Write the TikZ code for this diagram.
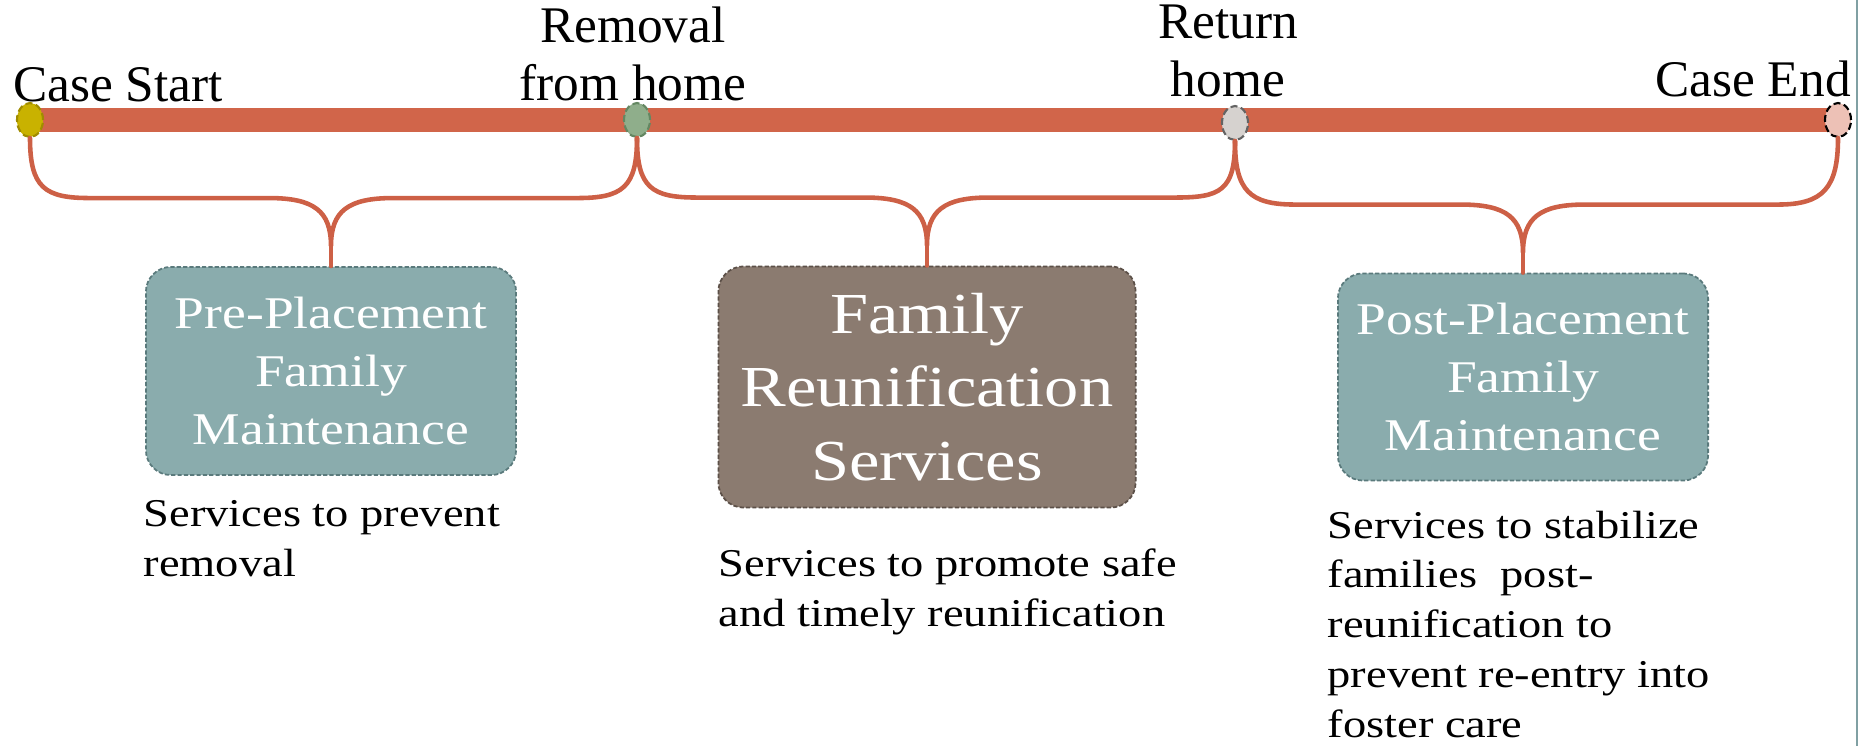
\documentclass[tikz,border=0pt]{standalone}
\usepackage{fontspec}
\setmainfont{Liberation Serif}
\newfontfamily\boxfont[FakeStretch=1.18]{Liberation Serif}
\usetikzlibrary{calc,shapes.geometric,backgrounds}

\definecolor{barred}{RGB}{209,101,74}
\definecolor{armred}{RGB}{205,96,70}
\definecolor{tealfill}{RGB}{138,172,173}
\definecolor{tealedge}{RGB}{90,122,124}
\definecolor{brownfill}{RGB}{139,123,112}
\definecolor{brownedge}{RGB}{92,80,72}
\definecolor{sideline}{RGB}{128,160,163}

\tikzset{
  bar/.style={line width=0.23cm, barred},
  arm/.style={line width=1.3pt, armred, line cap=round},
  dot/.style={ellipse, minimum width=0.26cm, minimum height=0.34cm, inner sep=0pt,
    line width=0.6pt, dash pattern=on 2pt off 1pt},
  tlabel/.style={anchor=south, inner sep=0pt, align=center, font=\fontsize{14.6}{16.5}\selectfont},
  stage/.style={rounded corners=0.25cm, inner sep=0pt, align=center, text=white,
    line width=0.5pt, dash pattern=on 1.2pt off 0.6pt},
  desc/.style={anchor=north west, inner sep=0pt, align=left,
    font=\boxfont\fontsize{11.2}{14.2}\selectfont}
}

% brace from dot #1 to dot #2, tip on box #3
\def\timebrace(#1)(#2)(#3){
  \coordinate (#3tip) at ($(#3.north)+(0,-20)$);
  \draw[arm] (#1.south) .. controls +(0,50) and +(-45,0) .. ($(#1.south |- #3.north)+(60,-68)$)
    -- ($(#3.north)+(-62,-68)$) .. controls +(45,0) and +(0,-35) .. (#3tip)
    .. controls +(0,-35) and +(-45,0) .. ($(#3.north)+(62,-68)$)
    -- ($(#2.south |- #3.north)+(-60,-68)$) .. controls +(45,0) and +(0,50) .. (#2.south);
  \draw[arm] (#3tip) -- (#3.north);
}

\begin{document}
\begin{tikzpicture}[x=0.01cm, y=-0.01cm]
  %%%%% START %%%%%
  \useasboundingbox (0,0) rectangle (1860,746);

  \draw[line width=0.6pt, sideline] (1857,0) -- (1857,746);

  % timeline points
  \node[dot, fill={rgb,255:red,201;green,178;blue,0}, draw={rgb,255:red,160;green,140;blue,0}] (start) at (30,120) {};
  \node[dot, fill={rgb,255:red,143;green,174;blue,139}, draw={rgb,255:red,100;green,135;blue,98}] (removal) at (637,120) {};
  \node[dot, fill={rgb,255:red,214;green,210;blue,207}, draw={rgb,255:red,100;green,100;blue,100}] (return) at (1235,123) {};
  \node[dot, fill={rgb,255:red,237;green,193;blue,182}, draw=black] (endpt) at (1838,120) {};

  \begin{scope}[on background layer]
    \draw[bar] (start.center) -- (endpt.center);
  \end{scope}

  \node[tlabel] (lstart) at (118,103) {Case Start};
  \node[tlabel] (lremoval) at (633,102) {Removal\\from home};
  \node[tlabel] (lreturn) at (1228,98) {Return\\home};
  \node[tlabel] (lend) at (1753,98) {Case End};

  % stage boxes
  \node[stage, fill=tealfill, draw=tealedge, minimum width=3.70cm, minimum height=2.08cm,
    font=\boxfont\fontsize{12.9}{16.4}\selectfont] (pre) at (331,371)
    {Pre-Placement\\Family\\Maintenance};
  \node[stage, fill=brownfill, draw=brownedge, minimum width=4.17cm, minimum height=2.41cm,
    font=\boxfont\fontsize{16.5}{20.9}\selectfont] (reunif) at (927,387)
    {Family\\Reunification\\Services};
  \node[stage, fill=tealfill, draw=tealedge, minimum width=3.70cm, minimum height=2.07cm,
    font=\boxfont\fontsize{12.9}{16.4}\selectfont] (post) at (1523,377)
    {Post-Placement\\Family\\Maintenance};

  \timebrace(start)(removal)(pre)
  \timebrace(removal)(return)(reunif)
  \timebrace(return)(endpt)(post)

  % descriptions
  \node[desc] (dpre) at (143,500) {Services to prevent\\removal};
  \node[desc] (dreunif) at (718,548) {Services to promote safe\\and timely reunification};
  \node[desc] (dpost) at (1327,510) {Services to stabilize\\families\ \ post-\\reunification to\\prevent re-entry into\\foster care};

  %%%%% END %%%%%
\end{tikzpicture}
\end{document}
